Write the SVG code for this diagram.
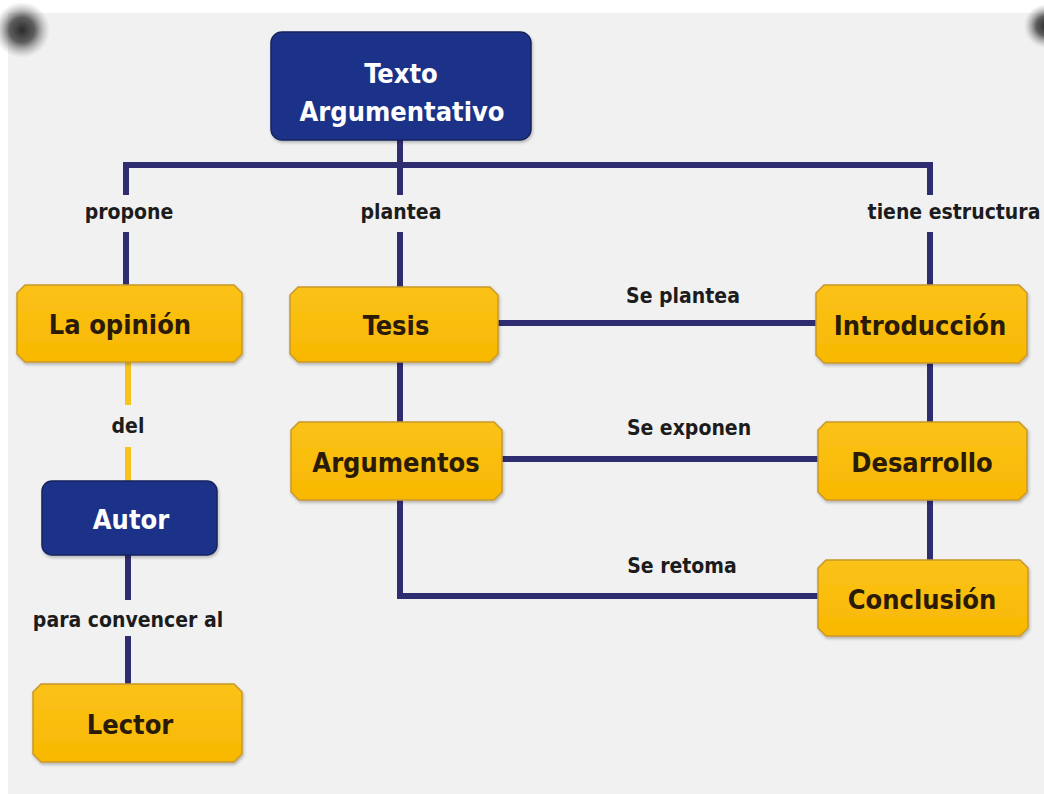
<svg xmlns="http://www.w3.org/2000/svg" width="1044" height="794" viewBox="0 0 1044 794">
<defs>
<linearGradient id="og" x1="0" y1="0" x2="0" y2="1">
<stop offset="0" stop-color="#fbc21a"/>
<stop offset="1" stop-color="#f8b800"/>
</linearGradient>
<radialGradient id="blob">
<stop offset="0" stop-color="#2a2a2a"/>
<stop offset="0.45" stop-color="#444" stop-opacity="0.85"/>
<stop offset="1" stop-color="#999" stop-opacity="0"/>
</radialGradient>
<filter id="sh" x="-10%" y="-10%" width="120%" height="130%">
<feDropShadow dx="1" dy="2" stdDeviation="1.5" flood-color="#000" flood-opacity="0.25"/>
</filter>
</defs>
<style>
.ln{stroke:#2f2d72;stroke-width:6;fill:none;stroke-linecap:butt;stroke-linejoin:miter}
.yl{stroke:#f8c21c;stroke-width:6;fill:none}
.on{fill:url(#og);stroke:#c9982a;stroke-width:1.5;filter:url(#sh)}
.bn{fill:#1f3288;stroke:#16245f;stroke-width:1.5;filter:url(#sh)}
.ot{font-family:"DejaVu Sans Condensed","Liberation Sans",sans-serif;font-weight:bold;font-size:27px;fill:#2a1a08;text-anchor:middle}
.bt{font-family:"DejaVu Sans Condensed","Liberation Sans",sans-serif;font-weight:bold;font-size:27px;fill:#ffffff;text-anchor:middle}
.lb{font-family:"DejaVu Sans Condensed","Liberation Sans",sans-serif;font-weight:bold;font-size:21px;fill:#1c1c1c;text-anchor:middle}
</style>
<rect width="1044" height="794" fill="#ffffff"/>
<rect x="8" y="13" width="1036" height="781" fill="#f1f1f1"/>
<circle cx="22" cy="30" r="28" fill="url(#blob)"/>
<circle cx="1046" cy="26" r="22" fill="url(#blob)"/>
<g id="connectors">
<polyline class="ln" points="126,195 126,165 930,165 930,195"/>
<line class="ln" x1="400" y1="140" x2="400" y2="195"/>
<line class="ln" x1="126" y1="232" x2="126" y2="286"/>
<line class="ln" x1="400" y1="232" x2="400" y2="288"/>
<line class="ln" x1="930" y1="232" x2="930" y2="286"/>
<line class="ln" x1="498" y1="323" x2="817" y2="323"/>
<line class="ln" x1="400" y1="362" x2="400" y2="423"/>
<line class="ln" x1="930" y1="363" x2="930" y2="423"/>
<line class="ln" x1="502" y1="459" x2="819" y2="459"/>
<line class="ln" x1="930" y1="500" x2="930" y2="561"/>
<polyline class="ln" points="400,500 400,596 819,596"/>
<line class="yl" x1="128" y1="362" x2="128" y2="405"/>
<line class="yl" x1="128" y1="447" x2="128" y2="482"/>
<line class="ln" x1="128" y1="555" x2="128" y2="600"/>
<line class="ln" x1="128" y1="636" x2="128" y2="685"/>
<text class="lb" x="129" y="219">propone</text>
<text class="lb" x="401" y="219">plantea</text>
<text class="lb" x="954" y="219">tiene estructura</text>
<text class="lb" x="683" y="303">Se plantea</text>
<text class="lb" x="689" y="435">Se exponen</text>
<text class="lb" x="682" y="573">Se retoma</text>
<text class="lb" x="128" y="433">del</text>
<text class="lb" x="128" y="627">para convencer al</text>
</g>
<g id="texto">
<rect class="bn" x="271" y="32" width="260" height="108" rx="11"/>
<text class="bt" x="401" y="83">Texto</text>
<text class="bt" x="402" y="121">Argumentativo</text>
</g>
<g id="opinion">
<polygon class="on" points="25,285 234,285 242,293 242,354 234,362 25,362 17,354 17,293"/>
<text class="ot" x="120" y="334">La opinión</text>
</g>
<g id="tesis">
<polygon class="on" points="298,287 490,287 498,295 498,354 490,362 298,362 290,354 290,295"/>
<text class="ot" x="396" y="335">Tesis</text>
</g>
<g id="introduccion">
<polygon class="on" points="824,285 1019,285 1027,293 1027,355 1019,363 824,363 816,355 816,293"/>
<text class="ot" x="920" y="335">Introducción</text>
</g>
<g id="argumentos">
<polygon class="on" points="299,422 494,422 502,430 502,492 494,500 299,500 291,492 291,430"/>
<text class="ot" x="396" y="472">Argumentos</text>
</g>
<g id="desarrollo">
<polygon class="on" points="826,422 1019,422 1027,430 1027,492 1019,500 826,500 818,492 818,430"/>
<text class="ot" x="922" y="472">Desarrollo</text>
</g>
<g id="conclusion">
<polygon class="on" points="826,560 1020,560 1028,568 1028,628 1020,636 826,636 818,628 818,568"/>
<text class="ot" x="922" y="609">Conclusión</text>
</g>
<g id="autor">
<rect class="bn" x="42" y="481" width="175" height="74" rx="10"/>
<text class="bt" x="131" y="529">Autor</text>
</g>
<g id="lector">
<polygon class="on" points="41,684 234,684 242,692 242,754 234,762 41,762 33,754 33,692"/>
<text class="ot" x="130" y="734">Lector</text>
</g>
</svg>
